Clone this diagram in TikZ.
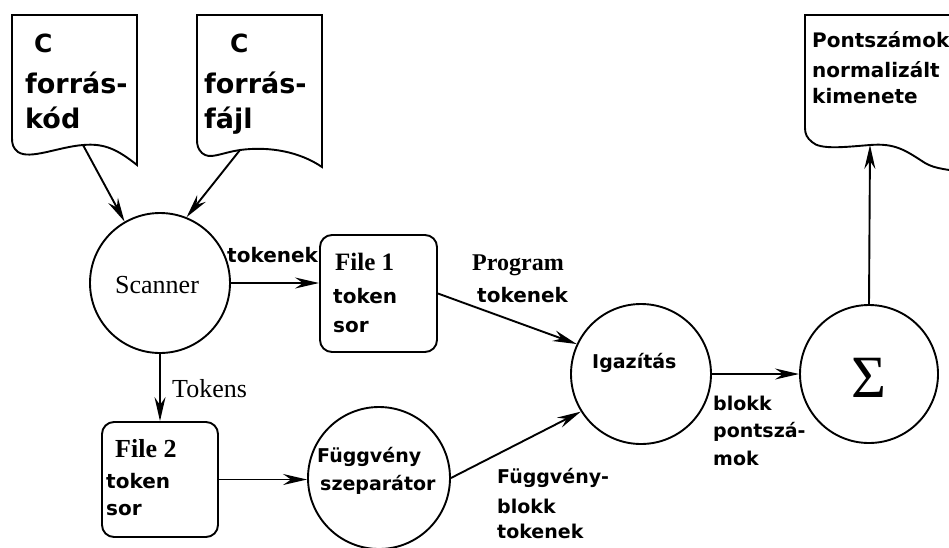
\documentclass[tikz,border=0pt]{standalone}
\usepackage{fontspec}
\setmainfont{Liberation Serif}
\newfontfamily\dvs{DejaVu Sans}
\usetikzlibrary{arrows.meta}
\newcommand{\fsz}[1]{\fontsize{#1}{#1}\selectfont}
\begin{document}
\begin{tikzpicture}[x=1pt,y=-1pt,
  ln/.style={line width=1.9pt},
  arr/.style={ln,-{Stealth[length=24pt,width=11pt,inset=8pt]}},
  circ/.style={circle,draw,line width=1.9pt,inner sep=0pt},
  box/.style={draw,line width=1.9pt,rounded corners=12pt,inner sep=0pt},
  txt/.style={anchor=base west,inner sep=0pt},
  sb/.style={txt,font=\dvs\bfseries\fsz{20}},
  sbs/.style={txt,font=\dvs\bfseries\fsz{19}},
  docb/.style={txt,font=\dvs\bfseries\fsz{27}},
  docc/.style={txt,font=\dvs\bfseries\fsz{25}},
  ser/.style={txt,font=\fsz{26}},
  serb/.style={txt,font=\bfseries\fsz{25}}]
\clip (0,0) rectangle (949,547);
\fill[white] (0,0) rectangle (949,547);

% documents
\draw[ln] (12,15) -- (137,15) -- (137,165)
  .. controls (118,150) and (105,143) .. (83,145)
  .. controls (58,147) and (30,160) .. (18,152)
  .. controls (13,148) and (12,144) .. (12,138) -- cycle;
\coordinate (d1b) at (83,145);
\draw[ln] (197,15) -- (322,15) -- (322,167)
  .. controls (300,152) and (270,146) .. (240,150)
  .. controls (220,153) and (210,160) .. (202,153)
  .. controls (198,149) and (197,145) .. (197,140) -- cycle;
\coordinate (d2b) at (240,150);
\draw[ln] (805,15) -- (965,15) -- (965,172)
  .. controls (950,170) and (935,169) .. (925,163)
  .. controls (905,150) and (895,143) .. (870,145)
  .. controls (845,147) and (820,150) .. (812,142)
  .. controls (807,138) and (805,134) .. (805,128) -- cycle;
\coordinate (d3b) at (870,145);

% process nodes
\node[circ,minimum size=140pt] (scanner) at (160,283) {};
\node[circ,minimum size=140pt] (igaz) at (641,374) {};
\node[circ,minimum size=138pt] (sigma) at (869,374) {};
\node[circ,minimum size=142pt] (fugg) at (379,478) {};
\node[box,minimum width=117pt,minimum height=117pt] (file1) at (378.5,293.5) {};
\node[box,minimum width=116pt,minimum height=115pt] (file2) at (160,479.5) {};

% connectors
\draw[arr] (d1b) -- (scanner.120);
\draw[arr] (d2b) -- (scanner.68);
\draw[arr] (scanner.east) -- (scanner.east -| file1.west);
\draw[arr] (scanner.south) -- (file2.north);
\draw[arr] (file2.east) -- (file2.east -| fugg.west);
\draw[arr] (file1.east) -- (igaz.155);
\draw[arr] (fugg.east) -- (igaz.212);
\draw[arr] (igaz.east) -- (sigma.west);
\draw[arr] (sigma.north) -- (d3b);

% document texts
\node[docc] (c1) at (34,52) {C};
\node[docb] (f1) at (25,93) {forrás-};
\node[docb] (k1) at (25,128) {kód};
\node[docc] (c2) at (230,52) {C};
\node[docb] (f2) at (204,93) {forrás-};
\node[docb] (k2) at (204,128) {fájl};
\node[sb] (p3) at (812,47) {Pontszámok};
\node[sb] (n3) at (812,77) {normalizált};
\node[sb] (k3) at (812,103) {kimenete};

% node texts
\node[ser] (tscan) at (115,293) {Scanner};
\node[serb] (tf1) at (335,270) {File 1};
\node[sb] (tf1b) at (333,303) {token};
\node[sb] (tf1c) at (333,332) {sor};
\node[serb,font=\bfseries\fsz{26}] (tf2) at (115,457) {File 2};
\node[sb] (tf2b) at (106,488) {token};
\node[sb] (tf2c) at (106,515) {sor};
\node[sbs] (tig) at (592,368) {Igazítás};
\node[sbs] (tfu1) at (317,462) {Függvény};
\node[sbs] (tfu2) at (320,490) {szeparátor};
\node[font=\fsz{60}] (tsig) at (869,378) {Σ};

% edge labels
\node[sb] (ltok) at (227,262) {tokenek};
\node[ser] (lTok) at (172,397) {Tokens};
\node[txt,font=\bfseries\fsz{24}] (lprog) at (472,270) {Program};
\node[sb] (lprog2) at (477,302) {tokenek};
\node[sbs] (lfb1) at (497,483) {Függvény-};
\node[sbs] (lfb2) at (497,513) {blokk};
\node[sbs] (lfb3) at (497,538) {tokenek};
\node[sbs] (lbp1) at (713,410) {blokk};
\node[sbs] (lbp2) at (713,437) {pontszá-};
\node[sbs] (lbp3) at (713,465) {mok};
\end{tikzpicture}
\end{document}
